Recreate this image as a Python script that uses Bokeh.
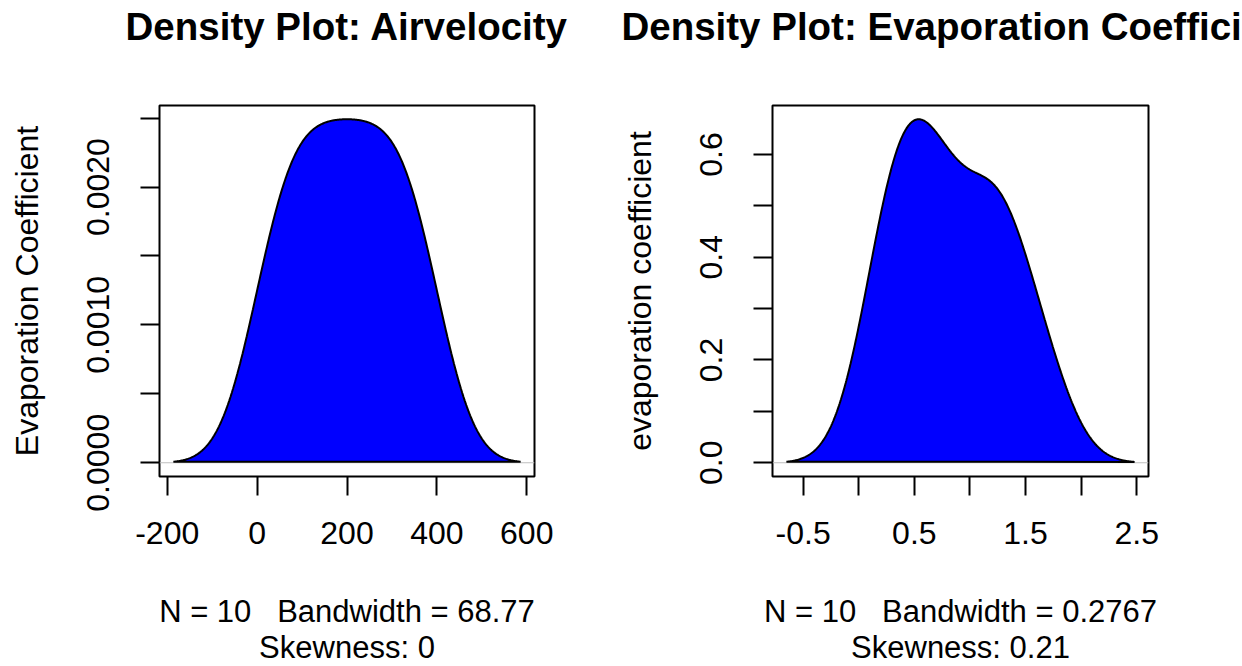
import numpy as np
from bokeh.plotting import figure
from bokeh.layouts import row
from bokeh.models import FixedTicker, Span, Title, Range1d
from bokeh.embed import file_html
from bokeh.resources import INLINE

# ---- data (raw observations behind the two density plots) ----
air_velocity = [20, 60, 100, 140, 180, 220, 260, 300, 340, 380]
evap_coef = [0.18, 0.37, 0.35, 0.78, 0.56, 0.75, 1.18, 1.36, 1.17, 1.65]

# ---- texts ----
titles = ["Density Plot: Airvelocity", "Density Plot: Evaporation Coefficient"]
ylabels = ["Evaporation Coefficient", "evaporation coefficient"]
sub1 = ["N = 10\u00a0\u00a0 Bandwidth = 68.77", "N = 10\u00a0\u00a0 Bandwidth = 0.2767"]
sub2 = ["Skewness: 0", "Skewness: 0.21"]

# ---- ticks ----
x_ticks = [[-200, 0, 200, 400, 600], [-0.5, 0, 0.5, 1, 1.5, 2, 2.5]]
x_tick_labels = [["-200", "0", "200", "400", "600"],
                 ["-0.5", "", "0.5", "", "1.5", "", "2.5"]]
y_ticks = [[0, 0.0005, 0.001, 0.0015, 0.002, 0.0025],
           [0, 0.1, 0.2, 0.3, 0.4, 0.5, 0.6]]
y_tick_labels = [["0.0000", "", "0.0010", "", "0.0020", ""],
                 ["0.0", "", "0.2", "", "0.4", "", "0.6"]]

FONT = "Liberation Sans"

# panel geometry: (left border, frame width, right border)
geom = [(159, 375, 79), (159, 376, 94)]
TOP, FRAME_H, BOTTOM = 105, 371, 190


def bw_nrd0(x):
    x = np.asarray(x, float)
    sd = x.std(ddof=1)
    q1, q3 = np.percentile(x, [25, 75])
    return 0.9 * min(sd, (q3 - q1) / 1.34) * len(x) ** -0.2


def kde(x):
    x = np.asarray(x, float)
    bw = bw_nrd0(x)
    g = np.linspace(x.min() - 3 * bw, x.max() + 3 * bw, 512)
    d = np.exp(-0.5 * ((g[:, None] - x[None, :]) / bw) ** 2).sum(1) / (len(x) * bw * np.sqrt(2 * np.pi))
    return g, d


def panel(i, data):
    gx, gy = kde(data)
    xpad = 0.04 * (gx.max() - gx.min())
    ypad = 0.04 * gy.max()
    bl, fw, br = geom[i]
    p = figure(width=bl + fw + br, height=TOP + FRAME_H + BOTTOM, output_backend="svg",
               toolbar_location=None, title=None,
               x_range=Range1d(gx.min() - xpad, gx.max() + xpad),
               y_range=Range1d(-ypad, gy.max() + ypad),
               min_border_left=bl, min_border_right=br,
               min_border_top=TOP, min_border_bottom=BOTTOM)
    p.background_fill_color = "white"
    p.border_fill_color = "white"
    p.xgrid.visible = False
    p.ygrid.visible = False
    p.outline_line_color = "black"
    p.outline_line_width = 2

    # spacer between frame and title, then the main title
    p.add_layout(Title(text=" ", text_font_size="1px", standoff=55), "above")
    p.add_layout(Title(text=titles[i], align="center", text_font=FONT, text_font_size="38.5px",
                       text_font_style="bold", text_color="black", standoff=0), "above")

    zero = Span(location=0, dimension="width", line_color="#BEBEBE", line_width=1, level="underlay")
    p.add_layout(zero)
    p.patch(gx, gy, fill_color="#0000FF", line_color="black", line_width=2)

    for ax, ticks, labels in ((p.xaxis[0], x_ticks[i], x_tick_labels[i]),
                              (p.yaxis[0], y_ticks[i], y_tick_labels[i])):
        ax.ticker = FixedTicker(ticks=ticks)
        ax.major_label_overrides = {t: l for t, l in zip(ticks, labels)}
        ax.major_tick_out = 19
        ax.major_tick_in = 0
        ax.major_tick_line_width = 2
        ax.major_tick_line_color = "black"
        ax.minor_tick_line_color = None
        ax.axis_line_color = None
        ax.major_label_text_font = FONT
        ax.major_label_text_font_size = "32px"
        ax.major_label_text_color = "black"
        ax.axis_label_text_font = FONT
        ax.axis_label_text_font_size = "32px"
        ax.axis_label_text_font_style = "normal"
        ax.axis_label_text_color = "black"

    p.yaxis[0].major_label_orientation = "vertical"
    p.yaxis[0].major_label_standoff = 31
    p.yaxis[0].axis_label = ylabels[i]
    p.yaxis[0].axis_label_standoff = 40

    p.xaxis[0].major_label_standoff = 26
    p.xaxis[0].axis_label = sub1[i]
    p.xaxis[0].axis_label_text_font_size = "31px"
    p.xaxis[0].axis_label_standoff = 47

    p.add_layout(Title(text=sub2[i], align="center", text_font=FONT, text_font_size="31px",
                       text_font_style="normal", text_color="black", standoff=-7), "below")
    return p


p = row(panel(0, air_velocity), panel(1, evap_coef))
open("out.html", "w").write(file_html(p, INLINE))
